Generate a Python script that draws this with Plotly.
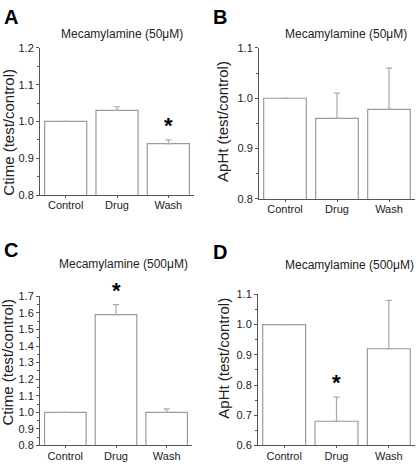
import plotly.graph_objects as go

categories = ["Control", "Drug", "Wash"]

a_values = [1.0, 1.03, 0.94]
a_errors = [0.0, 0.01, 0.01]
b_values = [1.0, 0.96, 0.978]
b_errors = [0.0, 0.05, 0.082]
c_values = [1.0, 1.59, 1.0]
c_errors = [0.0, 0.06, 0.02]
d_values = [1.0, 0.68, 0.92]
d_errors = [0.0, 0.08, 0.16]

panel_titles = ["Mecamylamine (50\u03bcM)", "Mecamylamine (50\u03bcM)",
                "Mecamylamine (500\u03bcM)", "Mecamylamine (500\u03bcM)"]
panel_letters = ["A", "B", "C", "D"]
y_titles = ["Ctime (test/control)", "ApHt (test/control)",
            "Ctime (test/control)", "ApHt (test/control)"]
star_panels = {0: 2, 2: 1, 3: 1}  # panel index -> category index with asterisk

W, H = 419, 467
FONT = "Liberation Sans, Arial, sans-serif"

panels = [
    dict(vals=a_values, errs=a_errors, xd=(40, 194), yd=(43, 194), yr=(0.8, 1.2), dt=0.1,
         title_xy=(122, 29), letter_xy=(2, 11), ytitle_xy=(9, 130)),
    dict(vals=b_values, errs=b_errors, xd=(259, 415), yd=(43, 198), yr=(0.8, 1.1), dt=0.1,
         title_xy=(346, 29), letter_xy=(211, 11), ytitle_xy=(223, 118)),
    dict(vals=c_values, errs=c_errors, xd=(40, 192), yd=(298, 451), yr=(0.8, 1.7), dt=0.1,
         title_xy=(123, 265), letter_xy=(2, 250), ytitle_xy=(8, 366)),
    dict(vals=d_values, errs=d_errors, xd=(258, 415), yd=(296, 451), yr=(0.6, 1.1), dt=0.1,
         title_xy=(349, 266), letter_xy=(211, 253), ytitle_xy=(224, 362)),
]

fig = go.Figure()
layout = dict(width=W, height=H, margin=dict(l=0, r=0, t=0, b=0),
              paper_bgcolor="white", plot_bgcolor="white", showlegend=False,
              font=dict(family=FONT, color="#222"))
annotations = []

for i, p in enumerate(panels):
    n = "" if i == 0 else str(i + 1)
    xa, ya = "x" + n, "y" + n
    fig.add_trace(go.Bar(
        x=[0, 1, 2], y=p["vals"], width=0.82, xaxis=xa, yaxis=ya,
        marker=dict(color="white", line=dict(color="#9a9a9a", width=1.2)),
        error_y=dict(type="data", array=p["errs"], arrayminus=[0, 0, 0],
                     symmetric=False, color="#aaaaaa", thickness=1.2, width=3),
    ))
    x0, x1 = p["xd"][0] / W, p["xd"][1] / W
    y0, y1 = 1 - p["yd"][1] / H, 1 - p["yd"][0] / H
    layout["xaxis" + n] = dict(
        domain=[x0, x1], range=[-0.5, 2.5], anchor=ya,
        tickmode="array", tickvals=[0, 1, 2], ticktext=categories,
        ticks="outside", ticklen=2, tickcolor="#555", showgrid=False, zeroline=False,
        showline=True, linecolor="#555", linewidth=1, ticklabelstandoff=-2,
        tickfont=dict(size=11, family=FONT, color="#222"), fixedrange=True,
    )
    layout["yaxis" + n] = dict(
        domain=[y0, y1], range=list(p["yr"]), anchor=xa,
        dtick=p["dt"], tick0=0, tickformat=".1f",
        ticks="outside", ticklen=3, tickcolor="#555", showgrid=False, zeroline=False,
        showline=True, linecolor="#555", linewidth=1,
        minor=dict(dtick=p["dt"] / 2, ticks="outside", ticklen=2, tickcolor="#555"),
        tickfont=dict(size=11, family=FONT, color="#222"),
        fixedrange=True,
    )
    tx, ty = p["title_xy"]
    annotations.append(dict(text=panel_titles[i], xref="paper", yref="paper",
                            x=tx / W, y=1 - ty / H, xanchor="center", yanchor="middle",
                            showarrow=False, font=dict(size=12, family=FONT, color="#222")))
    lx, ly = p["letter_xy"]
    annotations.append(dict(text="<b>" + panel_letters[i] + "</b>", xref="paper", yref="paper",
                            x=lx / W, y=1 - ly / H, xanchor="left", yanchor="middle",
                            showarrow=False, font=dict(size=20, family=FONT, color="black")))
    yx, yy = p["ytitle_xy"]
    annotations.append(dict(text=y_titles[i], xref="paper", yref="paper",
                            x=yx / W, y=1 - yy / H, xanchor="center", yanchor="middle",
                            textangle=-90, showarrow=False,
                            font=dict(size=15, family=FONT, color="#222")))
    if i in star_panels:
        k = star_panels[i]
        ytop = p["vals"][k] + p["errs"][k]
        annotations.append(dict(text="<b>*</b>", xref=xa, yref=ya, x=k, y=ytop,
                                xanchor="center", yanchor="bottom",
                                showarrow=False, font=dict(size=22, family=FONT, color="black")))

layout["annotations"] = annotations
fig.update_layout(**layout)
fig.write_html("out.html", config={"displayModeBar": False},
               post_script="document.body.style.margin='0px';document.body.style.overflow='hidden';")
